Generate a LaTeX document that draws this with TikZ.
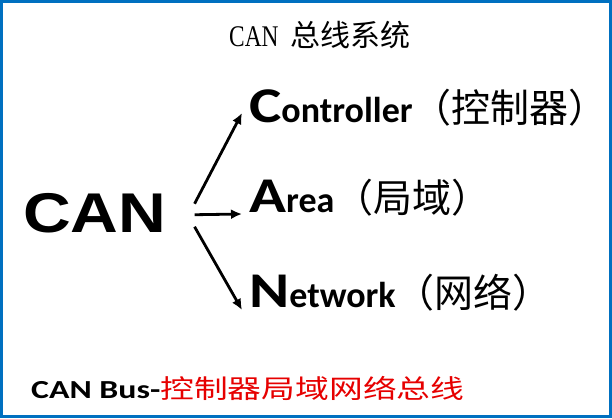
\documentclass[tikz,border=0pt]{standalone}
\usepackage{fontspec}
\usepackage{graphicx}
\usetikzlibrary{arrows.meta}

\setmainfont{Carlito}
\newfontfamily\cjk{Noto Sans CJK SC}
\newfontfamily\heavy{Liberation Sans}
\newfontfamily\serifcan{Liberation Serif}
\definecolor{frameblue}{RGB}{0,112,192}
\definecolor{busred}{RGB}{230,0,0}

% big initial, rest of the word, chinese part
\newcommand{\canlabel}[3]{%
  {\bfseries\fontsize{50}{50}\selectfont\scalebox{1.22}[1]{#1}}%
  {\bfseries\fontsize{36}{36}\selectfont #2}%
  {\cjk\fontsize{39}{39}\selectfont #3}}

\begin{document}
\begin{tikzpicture}[
    x=1pt, y=-1pt,
    every node/.style={inner sep=0pt, anchor=base west},
    link/.style={line width=2.8pt, -{Latex[length=11pt,width=10pt]}}
  ]

  \useasboundingbox (0,0) rectangle (612,418);
  \draw[frameblue, line width=3pt] (1.5,1.5) rectangle (610.5,416.5);

  \node (title) at (229,46) {{\serifcan\fontsize{30}{30}\selectfont\scalebox{0.78}[1]{CAN}}\hspace{12pt}{\cjk\fontsize{30}{30}\selectfont 总线系统}};

  \node (can) at (23,232) {\heavy\bfseries\fontsize{56}{56}\selectfont\scalebox{1.18}[1]{CAN}};

  \node (ctrl) at (249,122) {\canlabel{C}{ontroller}{（控制器）}};
  \node (area) at (249,212) {\canlabel{A}{rea}{（局域）}};
  \node (net) at (249,307) {\canlabel{N}{etwork}{（网络）}};

  \node (bus) at (31,398) {\scalebox{1.3}[1]{\fontsize{26}{26}\selectfont\bfseries CAN Bus-{\cjk\mdseries\color{busred}控制器局域网络总线}}};

  \draw[link] ([xshift=28pt,yshift=9pt]can.east) -- ([xshift=-7pt,yshift=9pt]ctrl.base west);
  \draw[link] ([xshift=28pt,yshift=-2pt]can.east) -- ([xshift=-7pt,yshift=-2pt]area.base west);
  \draw[link] ([xshift=28pt,yshift=-14pt]can.east) -- ([xshift=-7pt,yshift=-3pt]net.base west);

\end{tikzpicture}
\end{document}
